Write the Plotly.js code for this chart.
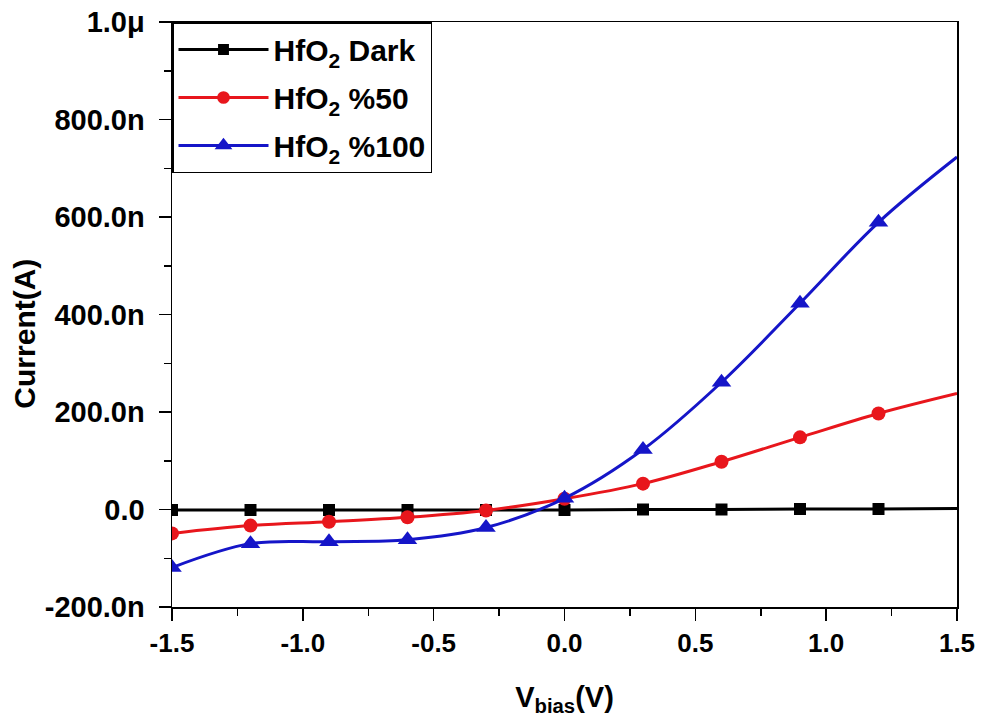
<!DOCTYPE html>
<html>
<head>
<meta charset="utf-8">
<script src="https://cdn.plot.ly/plotly-3.0.1.min.js"></script>
<style>html,body{margin:0;padding:0;background:#fff;}#chart{width:986px;height:722px;}</style>
</head>
<body>
<div id="chart"></div>
<script>
// Bias voltage (V)
const vbias = [-1.5, -1.2, -0.9, -0.6, -0.3, 0.0, 0.3, 0.6, 0.9, 1.2, 1.5];
// Current in nA
const darkCurrent = [-1, -1, -1, -1, -1, -1, 0, 0, 1, 1, 2];
const current50 = [-49, -33, -25, -16, -2, 22, 53, 98, 148, 197, 238];
const current100 = [-119, -70, -66, -62, -37, 23, 123, 261, 423, 589, 723];
const seriesNames = ['HfO<sub>2</sub> Dark', 'HfO<sub>2</sub> %50', 'HfO<sub>2</sub> %100'];
const yTickVals = [-200, 0, 200, 400, 600, 800, 1000];
const yTickText = ['-200.0n', '0.0', '200.0n', '400.0n', '600.0n', '800.0n', '1.0\u03bc'];
const xTickVals = [-1.5, -1.0, -0.5, 0.0, 0.5, 1.0, 1.5];
const xTickText = ['-1.5', '-1.0', '-0.5', '0.0', '0.5', '1.0', '1.5'];
const xTitle = 'V<sub>bias</sub>(V)';
const yTitle = 'Current(A)';

const FONT = 'Liberation Sans, Arial, sans-serif';
function sizes(s) { return vbias.map(v => v < 1.5 ? s : 0); }

const traces = [
  {x: vbias, y: darkCurrent, name: seriesNames[0], legendgroup: 'a', mode: 'lines+markers',
   line: {color: '#000000', width: 3, shape: 'spline'},
   marker: {symbol: 'square', size: sizes(12), color: '#000000', opacity: 1, line: {width: 0}}},
  {x: vbias, y: current50, name: seriesNames[1], legendgroup: 'b', mode: 'lines+markers',
   line: {color: '#e8161c', width: 3, shape: 'spline'},
   marker: {symbol: 'circle', size: sizes(14), color: '#e8161c', opacity: 1, line: {width: 0}}},
  {x: vbias, y: current100, name: seriesNames[2], legendgroup: 'c', mode: 'lines+markers',
   line: {color: '#1515c8', width: 3, shape: 'spline'},
   marker: {symbol: 'triangle-up', size: sizes(17), color: '#1515c8', opacity: 1, line: {width: 0}}}
];

const layout = {
  width: 986, height: 722,
  margin: {l: 172, r: 29, t: 22, b: 115},
  paper_bgcolor: '#ffffff', plot_bgcolor: '#ffffff',
  font: {family: FONT, color: '#000000'},
  showlegend: true,
  legend: {x: 0, y: 1, xanchor: 'left', yanchor: 'top',
    bgcolor: '#ffffff', bordercolor: '#000000', borderwidth: 1.5,
    font: {family: FONT, size: 30, color: '#000000', weight: 'bold'},
    tracegroupgap: 6, itemwidth: 90},
  xaxis: {
    range: [-1.5, 1.5], tickvals: xTickVals, ticktext: xTickText,
    showgrid: false, zeroline: false, showline: true, linecolor: '#000000', linewidth: 1.5,
    mirror: true, ticks: 'outside', ticklen: 12, tickwidth: 1.5, tickcolor: '#000000',
    minor: {tickvals: [-1.25, -0.75, -0.25, 0.25, 0.75, 1.25], ticks: 'outside', ticklen: 7, tickwidth: 1.5, tickcolor: '#000000', showgrid: false},
    tickfont: {family: FONT, size: 26, weight: 'bold'},
    title: {text: xTitle, font: {family: FONT, size: 29, weight: 'bold'}, standoff: 30}
  },
  yaxis: {
    range: [-200, 1000], tickvals: yTickVals, ticktext: yTickText,
    showgrid: false, zeroline: false, showline: true, linecolor: '#000000', linewidth: 1.5,
    mirror: true, ticks: 'outside', ticklen: 12, tickwidth: 1.5, tickcolor: '#000000',
    ticklabelstandoff: 8,
    minor: {tickvals: [-100, 100, 300, 500, 700, 900], ticks: 'outside', ticklen: 7, tickwidth: 1.5, tickcolor: '#000000', showgrid: false},
    tickfont: {family: FONT, size: 29, weight: 'bold'}
  },
  annotations: [
    {text: yTitle, xref: 'paper', yref: 'paper', x: -0.188, y: 0.468, xanchor: 'center', yanchor: 'middle',
     textangle: -90, showarrow: false, font: {family: FONT, size: 30, weight: 'bold', color: '#000000'}}
  ]
};

Plotly.newPlot('chart', traces, layout, {displayModeBar: false, staticPlot: true});
</script>
</body>
</html>
